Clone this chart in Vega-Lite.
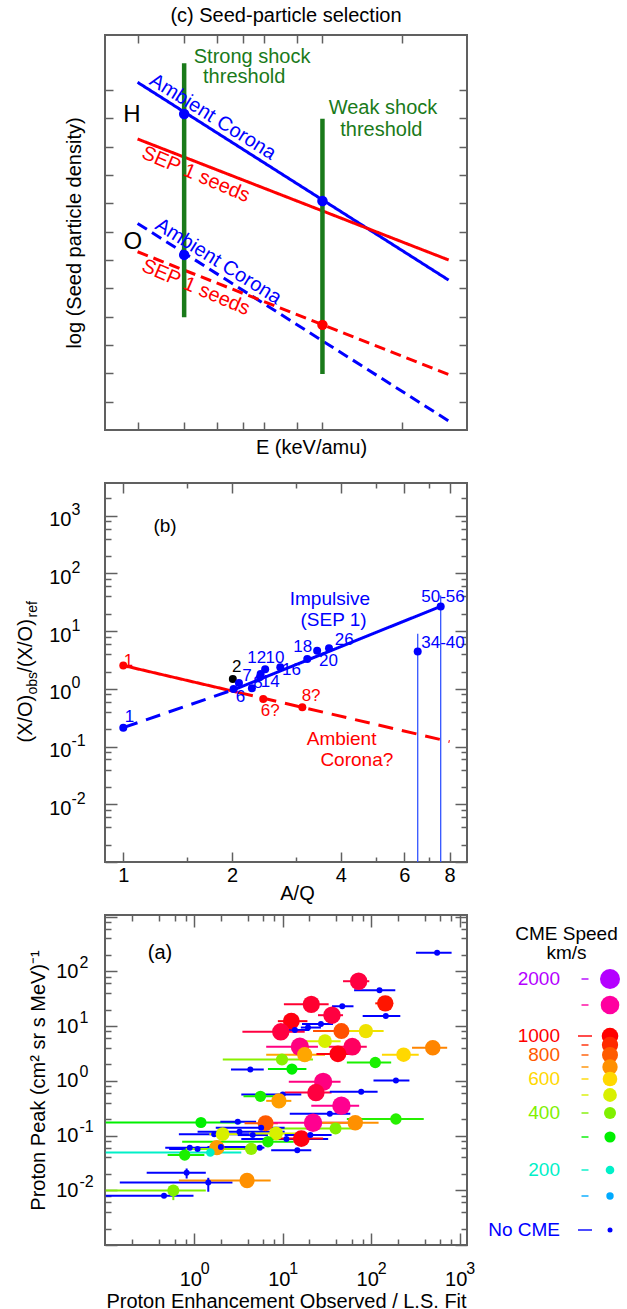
{
  "$schema": "https://vega.github.io/schema/vega-lite/v6.json",
  "padding": {"left": 14, "top": 5, "right": 0, "bottom": 0},
  "background": "white",
  "config": {
    "font": "Liberation Sans",
    "view": {"stroke": "#606060", "strokeWidth": 2},
    "axis": {"domain": false, "grid": false, "tickColor": "#606060", "tickWidth": 1.5, "labelFontSize": 20, "labelColor": "#000000", "titleFontSize": 20, "titleFontWeight": "normal", "titleColor": "#000000", "labelFont": "Liberation Sans", "titleFont": "Liberation Sans"},
    "title": {"fontSize": 20, "fontWeight": "normal", "color": "#000000", "frame": "group", "font": "Liberation Sans"},
    "text": {"font": "Liberation Sans"}
  },
  "datasets": {
    "seedLines": [
      {"ion": "H", "population": "Ambient Corona", "E": 1, "v": 12.27},
      {"ion": "H", "population": "Ambient Corona", "E": 15, "v": 5.29},
      {"ion": "H", "population": "SEP 1 seeds", "E": 1, "v": 10.27},
      {"ion": "H", "population": "SEP 1 seeds", "E": 15, "v": 6.0},
      {"ion": "O", "population": "Ambient Corona", "E": 1, "v": 7.29},
      {"ion": "O", "population": "Ambient Corona", "E": 15, "v": 0.32},
      {"ion": "O", "population": "SEP 1 seeds", "E": 1, "v": 6.29},
      {"ion": "O", "population": "SEP 1 seeds", "E": 15, "v": 1.96}
    ],
    "seedDots": [
      {"population": "Ambient Corona", "E": 1.5, "v": 11.15},
      {"population": "Ambient Corona", "E": 5, "v": 8.08},
      {"population": "Ambient Corona", "E": 1.5, "v": 6.18},
      {"population": "SEP 1 seeds", "E": 5, "v": 3.71}
    ],
    "thresholds": [
      {"shock": "Strong", "E": 1.5, "top": 12.94, "bottom": 3.98},
      {"shock": "Weak", "E": 5, "top": 10.98, "bottom": 1.98}
    ],
    "seedText": [
      {"kind": "ambient", "text": "Ambient Corona", "E": 1.83, "v": 10.72},
      {"kind": "ambient", "text": "Ambient Corona", "E": 1.92, "v": 5.62},
      {"kind": "sep", "text": "SEP 1 seeds", "E": 1.73, "v": 9.41},
      {"kind": "sep", "text": "SEP 1 seeds", "E": 1.73, "v": 5.42},
      {"kind": "ion", "text": "H", "E": 0.952, "v": 11.12},
      {"kind": "ion", "text": "O", "E": 0.96, "v": 6.65},
      {"kind": "shock", "text": "Strong shock", "E": 2.71, "v": 13.18},
      {"kind": "shock", "text": "threshold", "E": 2.53, "v": 12.47},
      {"kind": "shock", "text": "Weak shock", "E": 8.47, "v": 11.35},
      {"kind": "shock", "text": "threshold", "E": 8.35, "v": 10.59}
    ],
    "ratioLines": [
      {"group": "Ambient", "part": "solid", "AQ": 1, "ratio": 2.54},
      {"group": "Ambient", "part": "solid", "AQ": 2.08, "ratio": 0.87},
      {"group": "Ambient", "part": "dashed", "AQ": 2.08, "ratio": 0.87},
      {"group": "Ambient", "part": "dashed", "AQ": 8, "ratio": 0.122},
      {"group": "Impulsive", "part": "dashed", "AQ": 1, "ratio": 0.213},
      {"group": "Impulsive", "part": "dashed", "AQ": 2.05, "ratio": 1.0},
      {"group": "Impulsive", "part": "solid", "AQ": 2.05, "ratio": 1.0},
      {"group": "Impulsive", "part": "solid", "AQ": 7.56, "ratio": 26.9}
    ],
    "ratioBars": [
      {"label": "34-40", "AQ": 6.53, "top": 9.0, "bottom": 0.001},
      {"label": "50-56", "AQ": 7.56, "top": 41.7, "bottom": 0.001}
    ],
    "ratioPoints": [
      {"label": "1", "group": "Ambient", "AQ": 1, "ratio": 2.54},
      {"label": "6?", "group": "Ambient", "AQ": 2.44, "ratio": 0.67},
      {"label": "8?", "group": "Ambient", "AQ": 3.13, "ratio": 0.48},
      {"label": "2", "group": "He", "AQ": 2.01, "ratio": 1.49},
      {"label": "1", "group": "Impulsive", "AQ": 1, "ratio": 0.213},
      {"label": "6", "group": "Impulsive", "AQ": 2.02, "ratio": 1.0},
      {"label": "7", "group": "Impulsive", "AQ": 2.09, "ratio": 1.27},
      {"label": "8", "group": "Impulsive", "AQ": 2.27, "ratio": 1.03},
      {"label": "14", "group": "Impulsive", "AQ": 2.39, "ratio": 1.6},
      {"label": "12", "group": "Impulsive", "AQ": 2.4, "ratio": 1.82},
      {"label": "10", "group": "Impulsive", "AQ": 2.47, "ratio": 2.2},
      {"label": "16", "group": "Impulsive", "AQ": 2.72, "ratio": 2.38},
      {"label": "18", "group": "Impulsive", "AQ": 3.23, "ratio": 3.3},
      {"label": "20", "group": "Impulsive", "AQ": 3.44, "ratio": 4.6},
      {"label": "26", "group": "Impulsive", "AQ": 3.71, "ratio": 5.08},
      {"label": "34-40", "group": "Impulsive", "AQ": 6.53, "ratio": 4.44},
      {"label": "50-56", "group": "Impulsive", "AQ": 7.56, "ratio": 26.9}
    ],
    "ratioLabels": [
      {"text": "1", "group": "Ambient", "AQ": 1.033, "ratio": 3.1},
      {"text": "1", "group": "Impulsive", "AQ": 1.04, "ratio": 0.33},
      {"text": "2", "group": "He", "AQ": 2.06, "ratio": 2.38},
      {"text": "7", "group": "Impulsive", "AQ": 2.2, "ratio": 1.7},
      {"text": "6", "group": "Impulsive", "AQ": 2.11, "ratio": 0.735},
      {"text": "8", "group": "Impulsive", "AQ": 2.36, "ratio": 1.27},
      {"text": "14", "group": "Impulsive", "AQ": 2.55, "ratio": 1.34},
      {"text": "12", "group": "Impulsive", "AQ": 2.34, "ratio": 3.41},
      {"text": "10", "group": "Impulsive", "AQ": 2.63, "ratio": 3.41},
      {"text": "16", "group": "Impulsive", "AQ": 2.92, "ratio": 2.16},
      {"text": "18", "group": "Impulsive", "AQ": 3.14, "ratio": 5.29},
      {"text": "20", "group": "Impulsive", "AQ": 3.7, "ratio": 3.02},
      {"text": "26", "group": "Impulsive", "AQ": 4.09, "ratio": 6.9},
      {"text": "6?", "group": "Ambient", "AQ": 2.55, "ratio": 0.42},
      {"text": "8?", "group": "Ambient", "AQ": 3.31, "ratio": 0.765},
      {"text": "34-40", "group": "Impulsive", "AQ": 7.67, "ratio": 6.2},
      {"text": "50-56", "group": "Impulsive", "AQ": 7.67, "ratio": 39.7}
    ],
    "ratioNotes": [
      {"text": "Impulsive", "group": "Impulsive", "AQ": 3.73, "ratio": 35.5},
      {"text": "(SEP 1)", "group": "Impulsive", "AQ": 3.82, "ratio": 15.5},
      {"text": "Ambient", "group": "Ambient", "AQ": 4.02, "ratio": 0.135},
      {"text": "Corona?", "group": "Ambient", "AQ": 4.43, "ratio": 0.058},
      {"text": "(b)", "group": "He", "AQ": 1.305, "ratio": 676}
    ],
    "events": [
      {"X": 555, "lo": 320, "hi": 809, "Y": 218, "speed": 0},
      {"X": 72, "lo": 48, "hi": 95, "Y": 66, "speed": 1200},
      {"X": 124, "lo": 64, "hi": 187, "Y": 45, "speed": 0},
      {"X": 47, "lo": 36, "hi": 63, "Y": 23, "speed": 0},
      {"X": 21, "lo": 10.3, "hi": 33, "Y": 25, "speed": 1150},
      {"X": 144, "lo": 111, "hi": 171, "Y": 26, "speed": 950},
      {"X": 146, "lo": 80, "hi": 213, "Y": 15.2, "speed": 0},
      {"X": 36, "lo": 25, "hi": 48, "Y": 15.8, "speed": 1200},
      {"X": 12.5, "lo": 8.8, "hi": 19, "Y": 12.3, "speed": 1050},
      {"X": 27, "lo": 16.5, "hi": 37, "Y": 10.9, "speed": 0},
      {"X": 19.3, "lo": 16, "hi": 27, "Y": 9.4, "speed": 0},
      {"X": 13.7, "lo": 8.4, "hi": 20, "Y": 8.5, "speed": 0},
      {"X": 9.5, "lo": 3.5, "hi": 17.7, "Y": 7.85, "speed": 1200},
      {"X": 46, "lo": 22, "hi": 85, "Y": 8.1, "speed": 820},
      {"X": 87, "lo": 54, "hi": 138, "Y": 8.1, "speed": 560},
      {"X": 30, "lo": 17.7, "hi": 45, "Y": 5.3, "speed": 500},
      {"X": 15.6, "lo": 6.5, "hi": 25, "Y": 4.2, "speed": 1400},
      {"X": 61, "lo": 33, "hi": 89, "Y": 4.2, "speed": 1300},
      {"X": 496, "lo": 289, "hi": 721, "Y": 4.0, "speed": 720},
      {"X": 17.7, "lo": 6.5, "hi": 30, "Y": 3.0, "speed": 670},
      {"X": 42, "lo": 24, "hi": 66, "Y": 3.1, "speed": 1050},
      {"X": 232, "lo": 132, "hi": 344, "Y": 3.0, "speed": 600},
      {"X": 9.8, "lo": 2.1, "hi": 22, "Y": 2.45, "speed": 410},
      {"X": 111, "lo": 53, "hi": 168, "Y": 2.16, "speed": 320},
      {"X": 4.3, "lo": 2.6, "hi": 6.1, "Y": 1.61, "speed": 0},
      {"X": 12.7, "lo": 6.8, "hi": 18.5, "Y": 1.64, "speed": 300},
      {"X": 190, "lo": 106, "hi": 270, "Y": 1.01, "speed": 0},
      {"X": 28.6, "lo": 11.7, "hi": 45, "Y": 0.96, "speed": 1400},
      {"X": 23.7, "lo": 10.5, "hi": 35.6, "Y": 0.61, "speed": 1200},
      {"X": 77, "lo": 34, "hi": 118, "Y": 0.63, "speed": 0},
      {"X": 10, "lo": 3.4, "hi": 16.2, "Y": 0.56, "speed": 0},
      {"X": 5.6, "lo": 3.6, "hi": 8.7, "Y": 0.52, "speed": 320},
      {"X": 9.05, "lo": 6.5, "hi": 12.5, "Y": 0.43, "speed": 680},
      {"X": 46, "lo": 21, "hi": 73, "Y": 0.35, "speed": 1450},
      {"X": 34, "lo": 12, "hi": 58, "Y": 0.25, "speed": 0},
      {"X": 190, "lo": 53, "hi": 392, "Y": 0.2, "speed": 330},
      {"X": 1.19, "lo": 0.1, "hi": 3.4, "Y": 0.173, "speed": 300},
      {"X": 3.1, "lo": 1.97, "hi": 5.0, "Y": 0.178, "speed": 0},
      {"X": 6.4, "lo": 3.7, "hi": 8.8, "Y": 0.168, "speed": 800},
      {"X": 22, "lo": 6.2, "hi": 60, "Y": 0.171, "speed": 1450},
      {"X": 66, "lo": 21, "hi": 121, "Y": 0.171, "speed": 700},
      {"X": 39.5, "lo": 6.2, "hi": 68, "Y": 0.135, "speed": 400},
      {"X": 5.7, "lo": 1.75, "hi": 10.5, "Y": 0.139, "speed": 0},
      {"X": 1.68, "lo": 0.67, "hi": 6.2, "Y": 0.106, "speed": 0},
      {"X": 2.09, "lo": 1.48, "hi": 3.35, "Y": 0.106, "speed": 500},
      {"X": 3.24, "lo": 1.09, "hi": 10.5, "Y": 0.117, "speed": 0},
      {"X": 4.58, "lo": 3.1, "hi": 6.8, "Y": 0.102, "speed": 0},
      {"X": 8.4, "lo": 4.2, "hi": 16.2, "Y": 0.109, "speed": 500},
      {"X": 11, "lo": 3.4, "hi": 32.6, "Y": 0.086, "speed": 0},
      {"X": 16.2, "lo": 6.2, "hi": 28.6, "Y": 0.088, "speed": 1050},
      {"X": 20.5, "lo": 10.5, "hi": 35.6, "Y": 0.102, "speed": 0},
      {"X": 6.8, "lo": 0.73, "hi": 13.3, "Y": 0.077, "speed": 320},
      {"X": 0.89, "lo": 0.47, "hi": 1.75, "Y": 0.06, "speed": 0},
      {"X": 1.09, "lo": 0.52, "hi": 2.0, "Y": 0.057, "speed": 0},
      {"X": 1.8, "lo": 1.48, "hi": 2.19, "Y": 0.06, "speed": 680},
      {"X": 2.0, "lo": 1.41, "hi": 4.8, "Y": 0.062, "speed": 0},
      {"X": 4.4, "lo": 0.8, "hi": 5.7, "Y": 0.057, "speed": 420},
      {"X": 5.5, "lo": 3.7, "hi": 6.2, "Y": 0.06, "speed": 0},
      {"X": 14.6, "lo": 7.4, "hi": 21, "Y": 0.054, "speed": 0},
      {"X": 1.52, "lo": 0.1, "hi": 3.4, "Y": 0.049, "speed": 200},
      {"X": 0.78, "lo": 0.5, "hi": 1.3, "Y": 0.044, "speed": 320},
      {"X": 0.82, "lo": 0.29, "hi": 1.35, "Y": 0.021, "ylo": 0.0164, "yhi": 0.025, "speed": 0},
      {"X": 1.44, "lo": 0.144, "hi": 2.7, "Y": 0.0139, "ylo": 0.0094, "yhi": 0.0169, "speed": 0},
      {"X": 3.95, "lo": 0.67, "hi": 7.3, "Y": 0.0151, "speed": 700},
      {"X": 0.58, "lo": 0.1, "hi": 1.35, "Y": 0.0099, "ylo": 0.0066, "yhi": 0.0124, "speed": 400},
      {"X": 0.455, "lo": 0.1, "hi": 0.98, "Y": 0.0079, "speed": 0}
    ],
    "panelTag": [{"text": "(a)", "X": 0.41, "Y": 220}],
    "legendSpeeds": [
      {"speed": 2000, "label": "2000"},
      {"speed": 1500, "label": ""},
      {"speed": 1000, "label": "1000"},
      {"speed": 900, "label": ""},
      {"speed": 800, "label": "800"},
      {"speed": 700, "label": ""},
      {"speed": 600, "label": "600"},
      {"speed": 500, "label": ""},
      {"speed": 400, "label": "400"},
      {"speed": 300, "label": ""},
      {"speed": 200, "label": "200"},
      {"speed": 100, "label": ""},
      {"speed": 0, "label": "No CME"}
    ]
  },
  "spacing": 53,
  "bounds": "flush",
  "resolve": {"scale": {"x": "independent", "y": "independent", "color": "independent", "size": "independent", "strokeDash": "independent"}},
  "vconcat": [
    {
      "width": 362,
      "height": 395,
      "title": {"text": "(c) Seed-particle selection", "offset": 8},
      "resolve": {"axis": {"x": "independent", "y": "independent"}},
      "layer": [
        {
          "data": {"name": "seedLines"},
          "mark": {"type": "line", "strokeWidth": 3},
          "encoding": {
            "x": {"field": "E", "type": "quantitative", "scale": {"type": "log", "domain": [0.753, 17.6], "nice": false}, "axis": {"orient": "bottom", "values": [1, 1.5, 2, 2.5, 3, 4, 5, 10], "labels": false, "tickSize": -8, "title": "E (keV/amu)", "titlePadding": 7, "titleX": 206}},
            "y": {"field": "v", "type": "quantitative", "scale": {"domain": [0, 13.94], "nice": false, "zero": false}, "axis": {"orient": "left", "values": [1, 2, 3, 4, 5, 6, 7, 8, 9, 10, 11, 12], "labels": false, "tickSize": -8, "title": "log (Seed particle density)", "titlePadding": 20}},
            "color": {"field": "population", "type": "nominal", "scale": {"domain": ["Ambient Corona", "SEP 1 seeds"], "range": ["#0000ff", "#ff0000"]}, "legend": null},
            "strokeDash": {"field": "ion", "type": "nominal", "scale": {"domain": ["H", "O"], "range": [[1, 0], [11, 6]]}, "legend": null}
          }
        },
        {
          "data": {"name": "seedLines"},
          "mark": {"type": "point", "opacity": 0},
          "encoding": {
            "x": {"field": "E", "type": "quantitative", "axis": {"orient": "top", "values": [1, 1.5, 2, 2.5, 3, 4, 5, 10], "labels": false, "tickSize": -8, "title": null}},
            "y": {"field": "v", "type": "quantitative", "axis": {"orient": "right", "values": [1, 2, 3, 4, 5, 6, 7, 8, 9, 10, 11, 12], "labels": false, "tickSize": -8, "title": null}}
          }
        },
        {
          "data": {"name": "thresholds"},
          "mark": {"type": "rule", "strokeWidth": 4.5, "color": "#1a7a1a"},
          "encoding": {
            "x": {"field": "E", "type": "quantitative", "axis": null},
            "y": {"field": "top", "type": "quantitative", "axis": null},
            "y2": {"field": "bottom"}
          }
        },
        {
          "data": {"name": "seedDots"},
          "mark": {"type": "circle", "size": 110, "opacity": 1},
          "encoding": {
            "x": {"field": "E", "type": "quantitative", "axis": null},
            "y": {"field": "v", "type": "quantitative", "axis": null},
            "color": {"field": "population", "type": "nominal", "legend": null}
          }
        },
        {
          "data": {"name": "seedText"},
          "transform": [{"filter": "datum.kind == 'ambient'"}],
          "mark": {"type": "text", "angle": 32, "align": "center", "baseline": "bottom", "fontSize": 20, "color": "#0000ff", "dy": -1},
          "encoding": {
            "x": {"field": "E", "type": "quantitative", "axis": null},
            "y": {"field": "v", "type": "quantitative", "axis": null},
            "text": {"field": "text"}
          }
        },
        {
          "data": {"name": "seedText"},
          "transform": [{"filter": "datum.kind == 'sep'"}],
          "mark": {"type": "text", "angle": 23, "align": "center", "baseline": "top", "fontSize": 20, "color": "#ff0000", "dy": 2},
          "encoding": {
            "x": {"field": "E", "type": "quantitative", "axis": null},
            "y": {"field": "v", "type": "quantitative", "axis": null},
            "text": {"field": "text"}
          }
        },
        {
          "data": {"name": "seedText"},
          "transform": [{"filter": "datum.kind == 'ion'"}],
          "mark": {"type": "text", "align": "center", "baseline": "middle", "fontSize": 24, "color": "#000000"},
          "encoding": {
            "x": {"field": "E", "type": "quantitative", "axis": null},
            "y": {"field": "v", "type": "quantitative", "axis": null},
            "text": {"field": "text"}
          }
        },
        {
          "data": {"name": "seedText"},
          "transform": [{"filter": "datum.kind == 'shock'"}],
          "mark": {"type": "text", "align": "center", "baseline": "middle", "fontSize": 20, "color": "#1a7a1a"},
          "encoding": {
            "x": {"field": "E", "type": "quantitative", "axis": null},
            "y": {"field": "v", "type": "quantitative", "axis": null},
            "text": {"field": "text"}
          }
        }
      ]
    },
    {
      "width": 362,
      "height": 379,
      "resolve": {"axis": {"x": "independent", "y": "independent"}},
      "layer": [
        {
          "data": {"name": "ratioLines"},
          "mark": {"type": "line", "strokeWidth": 3},
          "encoding": {
            "x": {"field": "AQ", "type": "quantitative", "scale": {"type": "log", "domain": [0.89, 8.94], "nice": false}, "axis": {"orient": "bottom", "values": [1, 1.5, 2, 3, 4, 5, 6, 7, 8], "labelExpr": "indexof([1, 2, 4, 6, 8], datum.value) >= 0 ? '' + datum.value : ''", "tickSize": {"condition": {"test": "indexof([1, 2, 4, 6, 8], datum.value) >= 0", "value": -10}, "value": -5}, "labelPadding": 13, "title": "A/Q", "titlePadding": -2, "titleX": 192}},
            "y": {"field": "ratio", "type": "quantitative", "scale": {"type": "log", "domain": [0.001, 3700], "nice": false}, "axis": {"orient": "left", "values": [0.001, 0.002, 0.004, 0.006, 0.008, 0.01, 0.02, 0.04, 0.06, 0.08, 0.1, 0.2, 0.4, 0.6, 0.8, 1, 2, 4, 6, 8, 10, 20, 40, 60, 80, 100, 200, 400, 600, 800, 1000, 2000], "labelExpr": "indexof([0.01, 0.1, 1, 10, 100, 1000], datum.value) >= 0 ? '10' : ''", "tickSize": {"condition": {"test": "indexof([0.001, 0.01, 0.1, 1, 10, 100, 1000], datum.value) >= 0", "value": -12}, "value": -6}, "labelPadding": 46, "labelOffset": 4, "title": "(X/O)\u00a0\u00a0\u00a0\u00a0/(X/O)", "titleAngle": 270, "titleAlign": "left", "titleBaseline": "alphabetic", "titleX": -74, "titleY": 259}},
            "color": {"field": "group", "type": "nominal", "scale": {"domain": ["Ambient", "Impulsive", "He"], "range": ["#ff0000", "#0000ff", "#000000"]}, "legend": null},
            "strokeDash": {"field": "part", "type": "nominal", "scale": {"domain": ["solid", "dashed"], "range": [[1, 0], [15, 9]]}, "legend": null}
          }
        },
        {
          "data": {"name": "ratioLines"},
          "mark": {"type": "point", "opacity": 0},
          "encoding": {
            "x": {"field": "AQ", "type": "quantitative", "axis": {"orient": "top", "values": [1, 1.5, 2, 3, 4, 5, 6, 7, 8], "labels": false, "tickSize": {"condition": {"test": "indexof([1, 2, 4, 6, 8], datum.value) >= 0", "value": -10}, "value": -5}, "title": null}},
            "y": {"field": "ratio", "type": "quantitative", "axis": {"orient": "right", "values": [0.001, 0.002, 0.004, 0.006, 0.008, 0.01, 0.02, 0.04, 0.06, 0.08, 0.1, 0.2, 0.4, 0.6, 0.8, 1, 2, 4, 6, 8, 10, 20, 40, 60, 80, 100, 200, 400, 600, 800, 1000, 2000], "labels": false, "tickSize": {"condition": {"test": "indexof([0.001, 0.01, 0.1, 1, 10, 100, 1000], datum.value) >= 0", "value": -12}, "value": -6}, "title": null}}
          }
        },
        {
          "data": {"name": "ratioLines"},
          "mark": {"type": "point", "opacity": 0},
          "encoding": {
            "x": {"field": "AQ", "type": "quantitative", "axis": null},
            "y": {"field": "ratio", "type": "quantitative", "axis": {"orient": "left", "values": [0.01, 0.1, 1, 10, 100, 1000], "ticks": false, "tickSize": 0, "labelAlign": "left", "labelPadding": 34, "labelOffset": -6, "labelFontSize": 16, "labelExpr": "datum.value == 0.01 ? '-2' : datum.value == 0.1 ? '-1' : datum.value == 1 ? '0' : datum.value == 10 ? '1' : datum.value == 100 ? '2' : datum.value == 1000 ? '3' : ''", "title": "obs\u00a0\u00a0\u00a0\u00a0\u00a0\u00a0\u00a0\u00a0\u00a0\u00a0\u00a0\u00a0\u00a0\u00a0ref", "titleFontSize": 14, "titleAngle": 270, "titleAlign": "left", "titleBaseline": "alphabetic", "titleX": -69, "titleY": 211}}
          }
        },
        {
          "data": {"name": "ratioBars"},
          "mark": {"type": "rule", "strokeWidth": 1.3, "color": "#3355ff"},
          "encoding": {
            "x": {"field": "AQ", "type": "quantitative", "axis": null},
            "y": {"field": "top", "type": "quantitative", "axis": null},
            "y2": {"field": "bottom"}
          }
        },
        {
          "data": {"name": "ratioPoints"},
          "mark": {"type": "circle", "size": 64, "opacity": 1},
          "encoding": {
            "x": {"field": "AQ", "type": "quantitative", "axis": null},
            "y": {"field": "ratio", "type": "quantitative", "axis": null},
            "color": {"field": "group", "type": "nominal", "legend": null}
          }
        },
        {
          "data": {"name": "ratioLabels"},
          "mark": {"type": "text", "align": "center", "baseline": "middle", "fontSize": 17},
          "encoding": {
            "x": {"field": "AQ", "type": "quantitative", "axis": null},
            "y": {"field": "ratio", "type": "quantitative", "axis": null},
            "text": {"field": "text"},
            "color": {"field": "group", "type": "nominal", "legend": null}
          }
        },
        {
          "data": {"name": "ratioNotes"},
          "mark": {"type": "text", "align": "center", "baseline": "middle", "fontSize": 19},
          "encoding": {
            "x": {"field": "AQ", "type": "quantitative", "axis": null},
            "y": {"field": "ratio", "type": "quantitative", "axis": null},
            "text": {"field": "text"},
            "color": {"field": "group", "type": "nominal", "legend": null}
          }
        }
      ]
    },
    {
      "hconcat": [
        {
          "width": 362,
          "height": 330,
          "resolve": {"axis": {"x": "independent", "y": "independent"}},
          "layer": [
            {
              "data": {"name": "events"},
              "mark": {"type": "rule", "strokeWidth": 2},
              "encoding": {
                "x": {"field": "lo", "type": "quantitative", "scale": {"type": "log", "domain": [0.098, 1208], "nice": false}, "axis": {"orient": "bottom", "values": [0.2, 0.4, 0.6, 0.8, 1, 2, 4, 6, 8, 10, 20, 40, 60, 80, 100, 200, 400, 600, 800, 1000], "labelExpr": "indexof([1, 10, 100, 1000], datum.value) >= 0 ? '10' : ''", "tickSize": {"condition": {"test": "indexof([1, 10, 100, 1000], datum.value) >= 0", "value": -12}, "value": -6}, "labelPadding": 36, "labelOffset": -4, "title": "Proton Enhancement Observed / L.S. Fit", "titlePadding": 2}},
                "x2": {"field": "hi"},
                "y": {"field": "Y", "type": "quantitative", "scale": {"type": "log", "domain": [0.001, 1070], "nice": false}, "axis": {"orient": "left", "values": [0.001, 0.002, 0.004, 0.006, 0.008, 0.01, 0.02, 0.04, 0.06, 0.08, 0.1, 0.2, 0.4, 0.6, 0.8, 1, 2, 4, 6, 8, 10, 20, 40, 60, 80, 100, 200, 400, 600, 800, 1000], "labelExpr": "indexof([0.01, 0.1, 1, 10, 100], datum.value) >= 0 ? '10' : ''", "tickSize": {"condition": {"test": "indexof([0.001, 0.01, 0.1, 1, 10, 100, 1000], datum.value) >= 0", "value": -12}, "value": -6}, "labelPadding": 39, "title": "Proton Peak (cm² sr s MeV)⁻¹", "titlePadding": 7}},
                "color": {"field": "speed", "type": "quantitative", "scale": {"type": "linear", "domain": [0, 100, 200, 300, 400, 500, 600, 700, 800, 900, 1000, 1500, 2000], "range": ["#0000ff", "#00aaff", "#00f0c8", "#00f000", "#80f000", "#d8f000", "#ffd800", "#ff9000", "#ff5a00", "#ff2a00", "#ff0000", "#ff00a0", "#b400ff"], "interpolate": "rgb"}, "legend": null}
              }
            },
            {
              "data": {"name": "events"},
              "mark": {"type": "point", "opacity": 0},
              "encoding": {
                "x": {"field": "X", "type": "quantitative", "axis": {"orient": "top", "values": [0.2, 0.4, 0.6, 0.8, 1, 2, 4, 6, 8, 10, 20, 40, 60, 80, 100, 200, 400, 600, 800, 1000], "labels": false, "tickSize": {"condition": {"test": "indexof([1, 10, 100, 1000], datum.value) >= 0", "value": -12}, "value": -6}, "title": null}},
                "y": {"field": "Y", "type": "quantitative", "axis": {"orient": "right", "values": [0.001, 0.002, 0.004, 0.006, 0.008, 0.01, 0.02, 0.04, 0.06, 0.08, 0.1, 0.2, 0.4, 0.6, 0.8, 1, 2, 4, 6, 8, 10, 20, 40, 60, 80, 100, 200, 400, 600, 800, 1000], "labels": false, "tickSize": {"condition": {"test": "indexof([0.001, 0.01, 0.1, 1, 10, 100, 1000], datum.value) >= 0", "value": -12}, "value": -6}, "title": null}}
              }
            },
            {
              "data": {"name": "events"},
              "mark": {"type": "point", "opacity": 0},
              "encoding": {
                "x": {"field": "X", "type": "quantitative", "axis": {"orient": "bottom", "values": [1, 10, 100, 1000], "ticks": false, "tickSize": 0, "labelAlign": "left", "labelPadding": 15, "labelOffset": 6, "labelFontSize": 16, "labelExpr": "datum.value == 1 ? '0' : datum.value == 10 ? '1' : datum.value == 100 ? '2' : datum.value == 1000 ? '3' : ''", "title": null}},
                "y": {"field": "Y", "type": "quantitative", "axis": {"orient": "left", "values": [0.01, 0.1, 1, 10, 100], "ticks": false, "tickSize": 0, "labelAlign": "left", "labelPadding": 26, "labelOffset": -9, "labelFontSize": 16, "labelExpr": "datum.value == 0.01 ? '-2' : datum.value == 0.1 ? '-1' : datum.value == 1 ? '0' : datum.value == 10 ? '1' : datum.value == 100 ? '2' : ''", "title": null}}
              }
            },
            {
              "mark": {"type": "rule", "strokeWidth": 1.5, "color": "#000000"},
              "encoding": {"x": {"datum": 1, "type": "quantitative", "axis": null}}
            },
            {
              "data": {"name": "events"},
              "transform": [{"filter": "isValid(datum.ylo)"}],
              "mark": {"type": "rule", "strokeWidth": 2},
              "encoding": {
                "x": {"field": "X", "type": "quantitative", "axis": null},
                "y": {"field": "ylo", "type": "quantitative", "axis": null},
                "y2": {"field": "yhi"},
                "color": {"field": "speed", "type": "quantitative", "legend": null}
              }
            },
            {
              "data": {"name": "events"},
              "mark": {"type": "circle", "opacity": 1},
              "encoding": {
                "x": {"field": "X", "type": "quantitative", "axis": null},
                "y": {"field": "Y", "type": "quantitative", "axis": null},
                "color": {"field": "speed", "type": "quantitative", "legend": null},
                "size": {"field": "speed", "type": "quantitative", "scale": {"type": "linear", "zero": false, "domain": [0, 100, 200, 300, 400, 500, 600, 700, 800, 1000, 1500, 2000], "range": [36, 55, 74, 125, 144, 190, 213, 237, 256, 276, 346, 400]}, "legend": null}
              }
            },
            {
              "data": {"name": "panelTag"},
              "mark": {"type": "text", "align": "center", "baseline": "middle", "fontSize": 20, "color": "#000000"},
              "encoding": {
                "x": {"field": "X", "type": "quantitative", "axis": null},
                "y": {"field": "Y", "type": "quantitative", "axis": null},
                "text": {"field": "text"}
              }
            }
          ]
        },
        {
          "width": 117,
          "height": 330,
          "view": {"stroke": null},
          "title": {"text": ["CME Speed", "km/s"], "fontSize": 19, "lineHeight": 19, "offset": -48},
          "data": {"name": "legendSpeeds"},
          "layer": [
            {
              "mark": {"type": "text", "align": "right", "baseline": "middle", "fontSize": 19},
              "encoding": {
                "x": {"datum": "label", "type": "nominal", "scale": {"type": "point", "domain": ["label", "dash", "dot"], "range": [52, 102], "padding": 0}, "axis": null},
                "y": {"field": "speed", "type": "quantitative", "scale": {"type": "linear", "zero": false, "nice": false, "domain": [0, 100, 200, 300, 400, 500, 600, 700, 800, 900, 1000, 1500, 2000], "range": [315, 281, 255, 222, 198, 180, 164, 152, 140, 130, 121, 90, 64]}, "axis": null},
                "text": {"field": "label"},
                "color": {"field": "speed", "type": "quantitative", "scale": {"type": "linear", "domain": [0, 100, 200, 300, 400, 500, 600, 700, 800, 900, 1000, 1500, 2000], "range": ["#0000ff", "#00aaff", "#00f0c8", "#00f000", "#80f000", "#d8f000", "#ffd800", "#ff9000", "#ff5a00", "#ff2a00", "#ff0000", "#ff00a0", "#b400ff"], "interpolate": "rgb"}, "legend": null}
              }
            },
            {
              "mark": {"type": "tick", "orient": "horizontal", "thickness": 2},
              "encoding": {
                "x": {"datum": "dash", "type": "nominal", "axis": null},
                "y": {"field": "speed", "type": "quantitative", "axis": null},
                "color": {"field": "speed", "type": "quantitative", "legend": null},
                "size": {"condition": {"test": "datum.speed == 1000 || datum.speed == 0", "value": 14}, "value": 7}
              }
            },
            {
              "mark": {"type": "circle", "opacity": 1},
              "encoding": {
                "x": {"datum": "dot", "type": "nominal", "axis": null},
                "y": {"field": "speed", "type": "quantitative", "axis": null},
                "color": {"field": "speed", "type": "quantitative", "legend": null},
                "size": {"field": "speed", "type": "quantitative", "scale": {"type": "linear", "zero": false, "domain": [0, 100, 200, 300, 400, 500, 600, 700, 800, 1000, 1500, 2000], "range": [25, 55, 74, 125, 144, 190, 213, 237, 256, 276, 346, 400]}, "legend": null}
              }
            }
          ]
        }
      ],
      "spacing": 41,
      "bounds": "flush",
      "resolve": {"scale": {"x": "independent", "y": "independent", "color": "independent", "size": "independent"}}
    }
  ]
}
